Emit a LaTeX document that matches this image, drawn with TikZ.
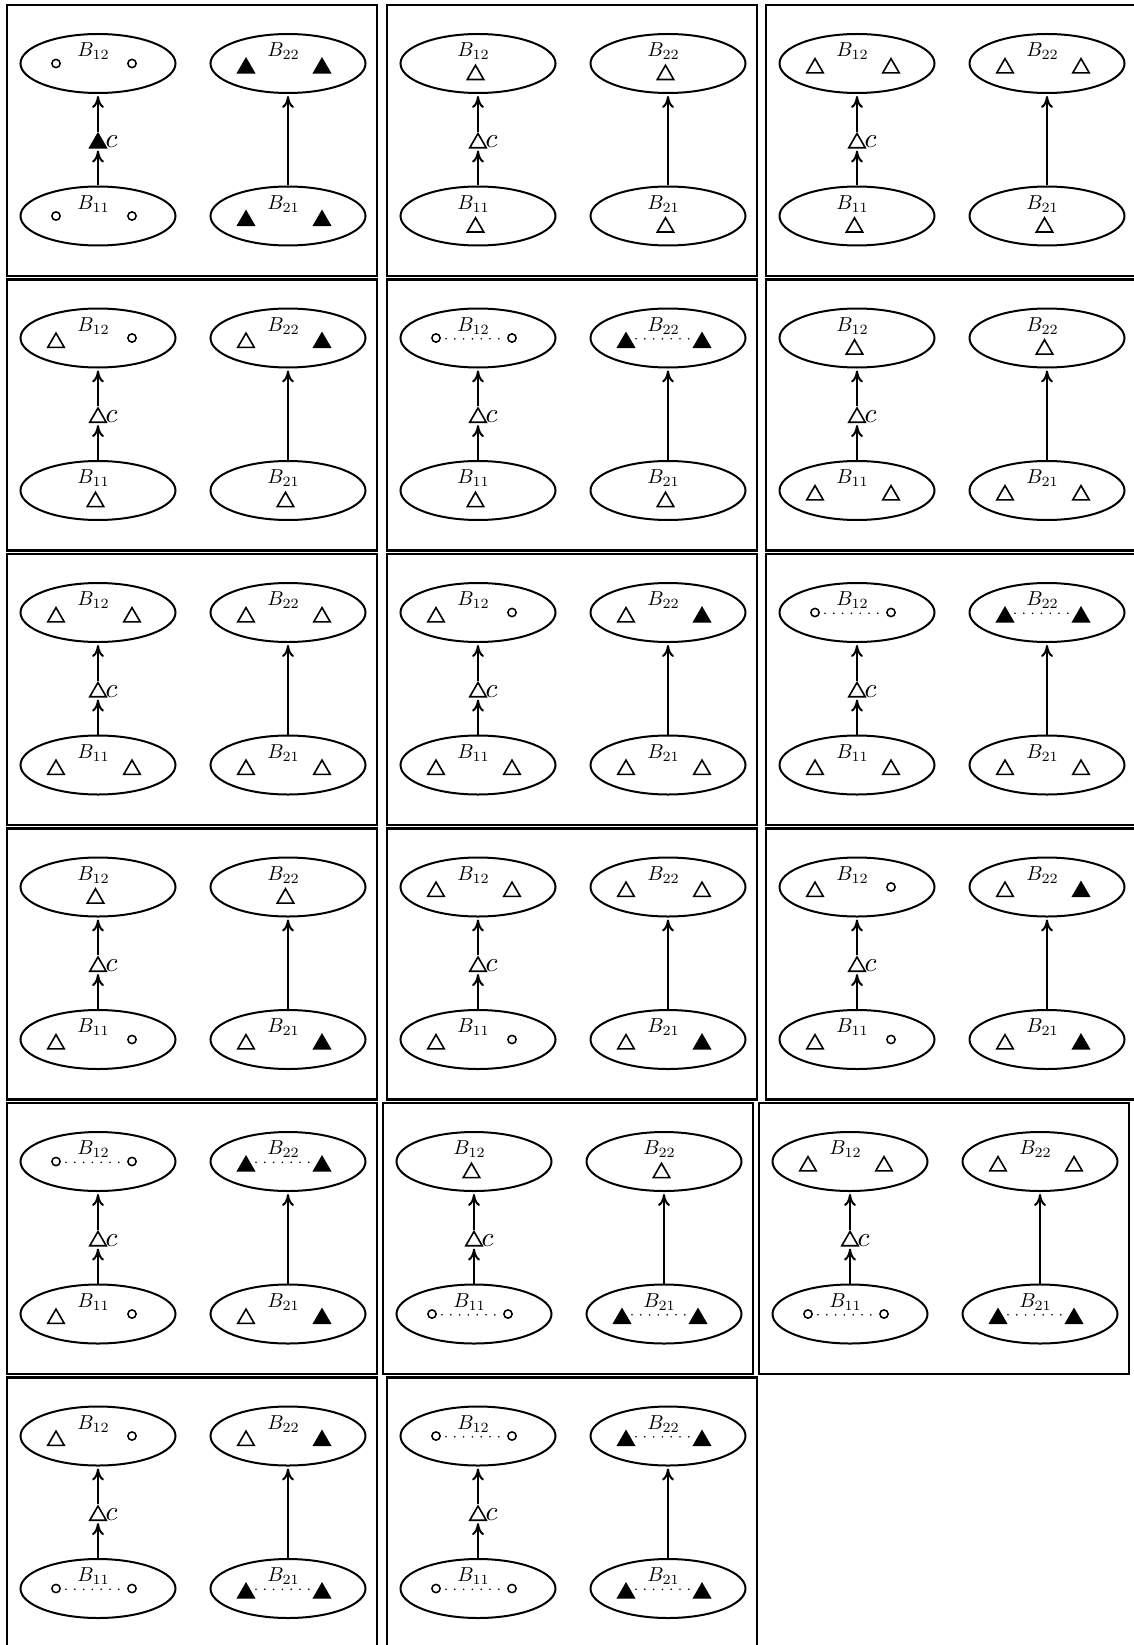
\documentclass[tikz,border=0pt]{standalone}
\usepackage{graphicx}
\usetikzlibrary{shapes.geometric,arrows.meta}
\tikzset{
  frame/.style={draw, line width=2.4pt},
  blob/.style={draw, ellipse, line width=2pt, minimum width=155pt, minimum height=59pt, inner sep=0pt},
  lab/.style={inner sep=0pt, anchor=base},
  clab/.style={inner sep=0pt, anchor=base},
  otri/.style={draw, regular polygon, regular polygon sides=3, minimum size=19pt, inner sep=0pt, line width=1.6pt, fill=white},
  ftri/.style={otri, fill=black},
  ocirc/.style={draw, circle, minimum size=8.3pt, inner sep=0pt, line width=1.5pt},
  dots/.style={line width=1.8pt, line cap=round, dash pattern=on 0pt off 8.8pt},
  conn/.style={line width=2pt, -{To[length=12pt,width=12pt]}, shorten >=2pt},
}
\newcommand\Blab[1]{\scalebox{2.02}{$B_{#1}$}}
\newcommand\Clab{\scalebox{2.75}{$c$}}
% symbol contents, drawn in a scope centred on the ellipse
\newcommand\Spair[5]{\node[#2] (#1a) at (-42,#3) {};\node[#4] (#1b) at (34,#5) {};}
\newcommand\Sdots[1]{\coordinate (#1p) at (-32,0.8);\coordinate (#1q) at (22,0.8);\draw[dots] (#1p) -- (#1q);}
\newcommand\Soo[1]{\Spair{#1}{ocirc}{0}{ocirc}{0}}
\newcommand\Sodo[1]{\Sdots{#1}\Spair{#1}{ocirc}{0}{ocirc}{0}}
\newcommand\STT[1]{\Spair{#1}{ftri}{4.6}{ftri}{4.6}}
\newcommand\STdT[1]{\Sdots{#1}\Spair{#1}{ftri}{4.6}{ftri}{4.6}}
\newcommand\Stt[1]{\Spair{#1}{otri}{4.6}{otri}{4.6}}
\newcommand\Sto[1]{\Spair{#1}{otri}{4.6}{ocirc}{0}}
\newcommand\StT[1]{\Spair{#1}{otri}{4.6}{ftri}{4.6}}
\newcommand\St[1]{\node[otri] (#1a) at (-2.5,11.3) {};}
% one ellipse: name, x, y, subscript, content
\newcommand\blobset[5]{%
  \node[blob] (#1) at (#2,#3) {};
  \begin{scope}[shift={(#2,#3)}]
    \node[lab] (#1l) at (-4.5,-6.8) {\Blab{#4}};
    \csname S#5\endcsname{#1}
  \end{scope}}
% one panel: name, x, y, B12, B22, B11, B21, style of c
\newcommand\panel[8]{%
  \begin{scope}[shift={(#2,#3)}]
    \draw[frame] (0,0) rectangle (370,271);
    \blobset{#1B12}{91}{58.5}{12}{#4}
    \blobset{#1B22}{281}{58.5}{22}{#5}
    \blobset{#1B11}{91}{211}{11}{#6}
    \blobset{#1B21}{281}{211}{21}{#7}
    \node[#8] (#1c) at (91,138) {};
    \node[clab] (#1cl) at (104.5,143) {\Clab};
    \draw[conn] (#1B11) -- (#1c);
    \draw[conn] (#1c) -- (#1B12);
    \draw[conn] (#1B21) -- (#1B22);
  \end{scope}}
\begin{document}
\begin{tikzpicture}[x=1pt,y=-1pt]
\useasboundingbox (0,0) rectangle (1133,1645);
\fill[white] (0,0) rectangle (1133,1645);
% row 1
\panel{pa}{7}{5}{oo}{TT}{oo}{TT}{ftri}
\panel{pb}{387}{5}{t}{t}{t}{t}{otri}
\panel{pc}{766}{5}{tt}{tt}{t}{t}{otri}
% row 2
\panel{pd}{7}{279.5}{to}{tT}{t}{t}{otri}
\panel{pe}{387}{279.5}{odo}{TdT}{t}{t}{otri}
\panel{pf}{766}{279.5}{t}{t}{tt}{tt}{otri}
% row 3
\panel{pg}{7}{554}{tt}{tt}{tt}{tt}{otri}
\panel{ph}{387}{554}{to}{tT}{tt}{tt}{otri}
\panel{pi}{766}{554}{odo}{TdT}{tt}{tt}{otri}
% row 4
\panel{pj}{7}{828.5}{t}{t}{to}{tT}{otri}
\panel{pk}{387}{828.5}{tt}{tt}{to}{tT}{otri}
\panel{pl}{766}{828.5}{to}{tT}{to}{tT}{otri}
% row 5
\panel{pm}{7}{1103}{odo}{TdT}{to}{tT}{otri}
\panel{pn}{383}{1103}{t}{t}{odo}{TdT}{otri}
\panel{po}{759}{1103}{tt}{tt}{odo}{TdT}{otri}
% row 6
\panel{pp}{7}{1377.5}{to}{tT}{odo}{TdT}{otri}
\panel{pq}{387}{1377.5}{odo}{TdT}{odo}{TdT}{otri}
\end{tikzpicture}
\end{document}
